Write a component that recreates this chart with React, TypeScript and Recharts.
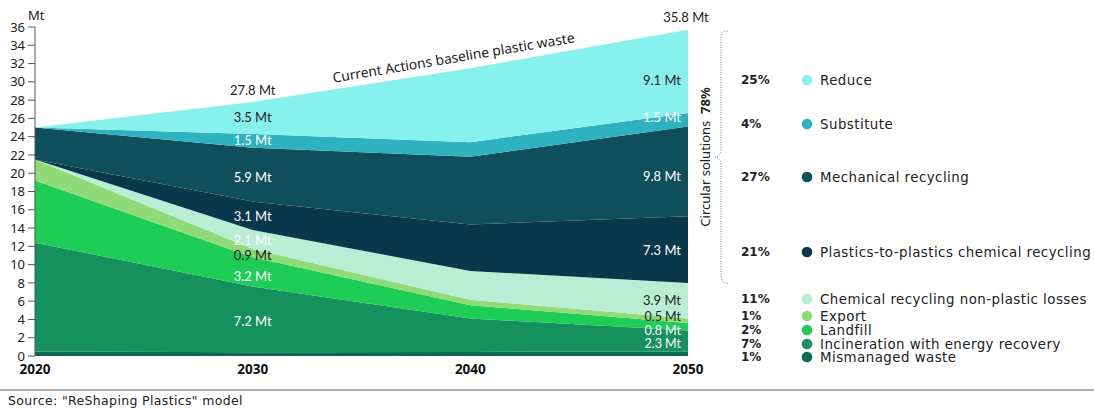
import { Area, AreaChart, ReferenceDot, XAxis, YAxis } from "recharts";

// Mt of plastic waste per year, stacked bottom to top
const years = [2020, 2030, 2040, 2050];
const mismanaged = [0.5, 0.4, 0.45, 0.5];
const incineration = [11.9, 7.2, 3.65, 2.3];
const landfill = [6.8, 3.2, 1.45, 0.8];
const exportWaste = [2.3, 0.9, 0.6, 0.5];
const chemLosses = [0, 2.1, 3.15, 3.9];
const p2pChemical = [0, 3.1, 5.1, 7.3];
const mechanical = [3.5, 5.9, 7.4, 9.8];
const substitute = [0, 1.5, 1.6, 1.5];
const reduce = [0, 3.5, 8.1, 9.1];

const yTicks = [0, 2, 4, 6, 8, 10, 12, 14, 16, 18, 20, 22, 24, 26, 28, 30, 32, 34, 36];

// labels printed inside the bands (index matches series order)
const labels2030 = ["", "7.2 Mt", "3.2 Mt", "0.9 Mt", "2.1 Mt", "3.1 Mt", "5.9 Mt", "1.5 Mt", "3.5 Mt"];
const labels2050 = ["", "2.3 Mt", "0.8 Mt", "0.5 Mt", "3.9 Mt", "7.3 Mt", "9.8 Mt", "1.5 Mt", "9.1 Mt"];
const totalLabels = ["27.8 Mt", "35.8 Mt"];

const seriesKeys = ["mismanaged", "incineration", "landfill", "exportWaste", "chemLosses", "p2pChemical", "mechanical", "substitute", "reduce"];
const seriesValues = [mismanaged, incineration, landfill, exportWaste, chemLosses, p2pChemical, mechanical, substitute, reduce];
const seriesColors = ["#0c6a52", "#15915d", "#1dcd56", "#8edb77", "#b9eed5", "#08384a", "#0e4f5b", "#2fb2bf", "#87f1ee"];
const ink2030 = ["#fff", "#fff", "#fff", "#222", "#fff", "#fff", "#fff", "#fff", "#222"];
const ink2050 = ["#fff", "#fff", "#fff", "#222", "#222", "#fff", "#fff", "#fff", "#222"];
const dy2050 = [0, 3, 4, -4, -1, 0, 5, -3, 9];
const dy2030 = [0, 2, 4, 2, 1, 0, 2, -1, -1];

const legendPercents = ["25%", "4%", "27%", "21%", "11%", "1%", "2%", "7%", "1%"];
const legendNames = [
  "Reduce",
  "Substitute",
  "Mechanical recycling",
  "Plastics-to-plastics chemical recycling",
  "Chemical recycling non-plastic losses",
  "Export",
  "Landfill",
  "Incineration with energy recovery",
  "Mismanaged waste",
];
const legendColors = ["#87f1ee", "#2fb2bf", "#0e4f5b", "#08384a", "#b9eed5", "#8edb77", "#1dcd56", "#15915d", "#0c6a52"];
const legendRowY = [80, 124, 177, 252, 299, 316, 330, 344, 357];

const FONT = "'Noto Sans', sans-serif";
const WIDE_FONT = "'DejaVu Sans', 'Noto Sans', sans-serif";
const LABEL_FONT = "Lato, 'Noto Sans', sans-serif";

const data = years.map((year, i) => {
  const row: Record<string, number> = { year };
  seriesKeys.forEach((k, s) => (row[k] = seriesValues[s][i]));
  return row;
});

function midpoint(series: number, i: number) {
  let base = 0;
  for (let s = 0; s < series; s++) base += seriesValues[s][i];
  return base + seriesValues[series][i] / 2;
}

function total(i: number) {
  return seriesValues.reduce((a, v) => a + v[i], 0);
}

function textLabel(text: string, fill: string, anchor: string, dx: number, dy: number, extra: any = {}) {
  return (props: any) => {
    const vb = props.viewBox || {};
    const cx = (vb.x ?? 0) + (vb.width ?? 0) / 2;
    const cy = (vb.y ?? 0) + (vb.height ?? 0) / 2;
    const x = cx + dx;
    const y = cy + dy;
    return (
      <text
        x={x}
        y={y}
        textAnchor={anchor}
        dominantBaseline="central"
        fill={fill}
        fontSize={extra.fontSize ?? 13}
        fontFamily={extra.fontFamily ?? LABEL_FONT}
        transform={extra.angle ? `rotate(${extra.angle} ${x} ${y})` : undefined}
      >
        {text}
      </text>
    );
  };
}

export default function App() {
  const idx2030 = 1;
  const idx2050 = 3;
  return (
    <div style={{ position: "absolute", left: 0, top: 0, width: 1094, height: 408, background: "#fff", fontFamily: FONT }}>
      <AreaChart width={1094} height={408} data={data} margin={{ top: 27, right: 406, bottom: 22, left: 0 }}>
        <XAxis
          dataKey="year"
          type="number"
          domain={[2020, 2050]}
          ticks={years}
          axisLine={false}
          tickLine={false}
          height={30}
          tick={{ fill: "#111", fontSize: 13.5, fontWeight: 700, fontFamily: FONT }}
        />
        <YAxis
          domain={[0, 36]}
          ticks={yTicks}
          width={35}
          tickSize={7}
          tickMargin={3}
          interval={0}
          axisLine={{ stroke: "#555" }}
          tickLine={{ stroke: "#555" }}
          tick={{ fill: "#222", fontSize: 13, fontFamily: FONT }}
        />
        {seriesKeys.map((k, s) => (
          <Area
            key={k}
            dataKey={k}
            stackId="waste"
            type="linear"
            fill={seriesColors[s]}
            fillOpacity={1}
            stroke="none"
            isAnimationActive={false}
            activeDot={false}
          />
        ))}
        {seriesKeys.map((k, s) =>
          labels2030[s] ? (
            <ReferenceDot
              key={`l30-${k}`}
              x={years[idx2030]}
              y={midpoint(s, idx2030)}
              r={0}
              fill="none"
              stroke="none"
              ifOverflow="visible"
              label={textLabel(labels2030[s], ink2030[s], "middle", 0, dy2030[s])}
            />
          ) : null
        )}
        {seriesKeys.map((k, s) =>
          labels2050[s] ? (
            <ReferenceDot
              key={`l50-${k}`}
              x={years[idx2050]}
              y={midpoint(s, idx2050)}
              r={0}
              fill="none"
              stroke="none"
              ifOverflow="visible"
              label={textLabel(labels2050[s], ink2050[s], "end", -7, dy2050[s], { fontSize: s <= 3 ? 12.5 : 13 })}
            />
          ) : null
        )}
        <ReferenceDot
          x={years[idx2030]}
          y={total(idx2030)}
          r={0}
          fill="none"
          stroke="none"
          ifOverflow="visible"
          label={textLabel(totalLabels[0], "#222", "middle", 0, -12)}
        />
        <ReferenceDot
          x={years[idx2050]}
          y={total(idx2050)}
          r={0}
          fill="none"
          stroke="none"
          ifOverflow="visible"
          label={textLabel(totalLabels[1], "#222", "middle", -2, -13)}
        />
        <ReferenceDot
          x={years[2]}
          y={total(2)}
          r={0}
          fill="none"
          stroke="none"
          ifOverflow="visible"
          label={textLabel("Current Actions baseline plastic waste", "#222", "middle", -17, -11, {
            angle: -9.5,
            fontSize: 13.8,
            fontFamily: FONT,
          })}
        />
      </AreaChart>

      <div style={{ position: "absolute", left: 28, top: 6, fontSize: 13, color: "#222" }}>Mt</div>

      <svg width={1094} height={408} style={{ position: "absolute", left: 0, top: 0, pointerEvents: "none" }}>
        <path
          d="M 728 31 Q 721 31 721 38 L 721 150 Q 721 156 715 157 Q 721 158 721 164 L 721 276 Q 721 283 728 283"
          fill="none"
          stroke="#777"
          strokeWidth={1}
          strokeDasharray="1 1.5"
        />
        <text
          x={705}
          y={157}
          transform="rotate(-90 705 157)"
          textAnchor="middle"
          dominantBaseline="central"
          fontSize={13}
          fontFamily={FONT}
          fill="#222"
        >
          Circular solutions <tspan fontWeight={700}>{"\u00a078%"}</tspan>
        </text>
        <line x1={0} y1={390} x2={1094} y2={390} stroke="#666" strokeWidth={1.2} />
        <text x={8} y={400} dominantBaseline="central" fontSize={12.5} letterSpacing={0.35} fontFamily={WIDE_FONT} fill="#222">
          Source: "ReShaping Plastics" model
        </text>
        {legendNames.map((name, i) => (
          <g key={name}>
            <text x={741} y={legendRowY[i]} dominantBaseline="central" fontSize={12} fontWeight={700} fontFamily={WIDE_FONT} fill="#222">
              {legendPercents[i]}
            </text>
            <circle cx={807} cy={legendRowY[i]} r={5.3} fill={legendColors[i]} />
            <text
              x={820}
              y={legendRowY[i]}
              dominantBaseline="central"
              fontSize={13.4}
              letterSpacing={0.45}
              fontFamily={WIDE_FONT}
              fill="#222"
            >
              {name}
            </text>
          </g>
        ))}
      </svg>
    </div>
  );
}
